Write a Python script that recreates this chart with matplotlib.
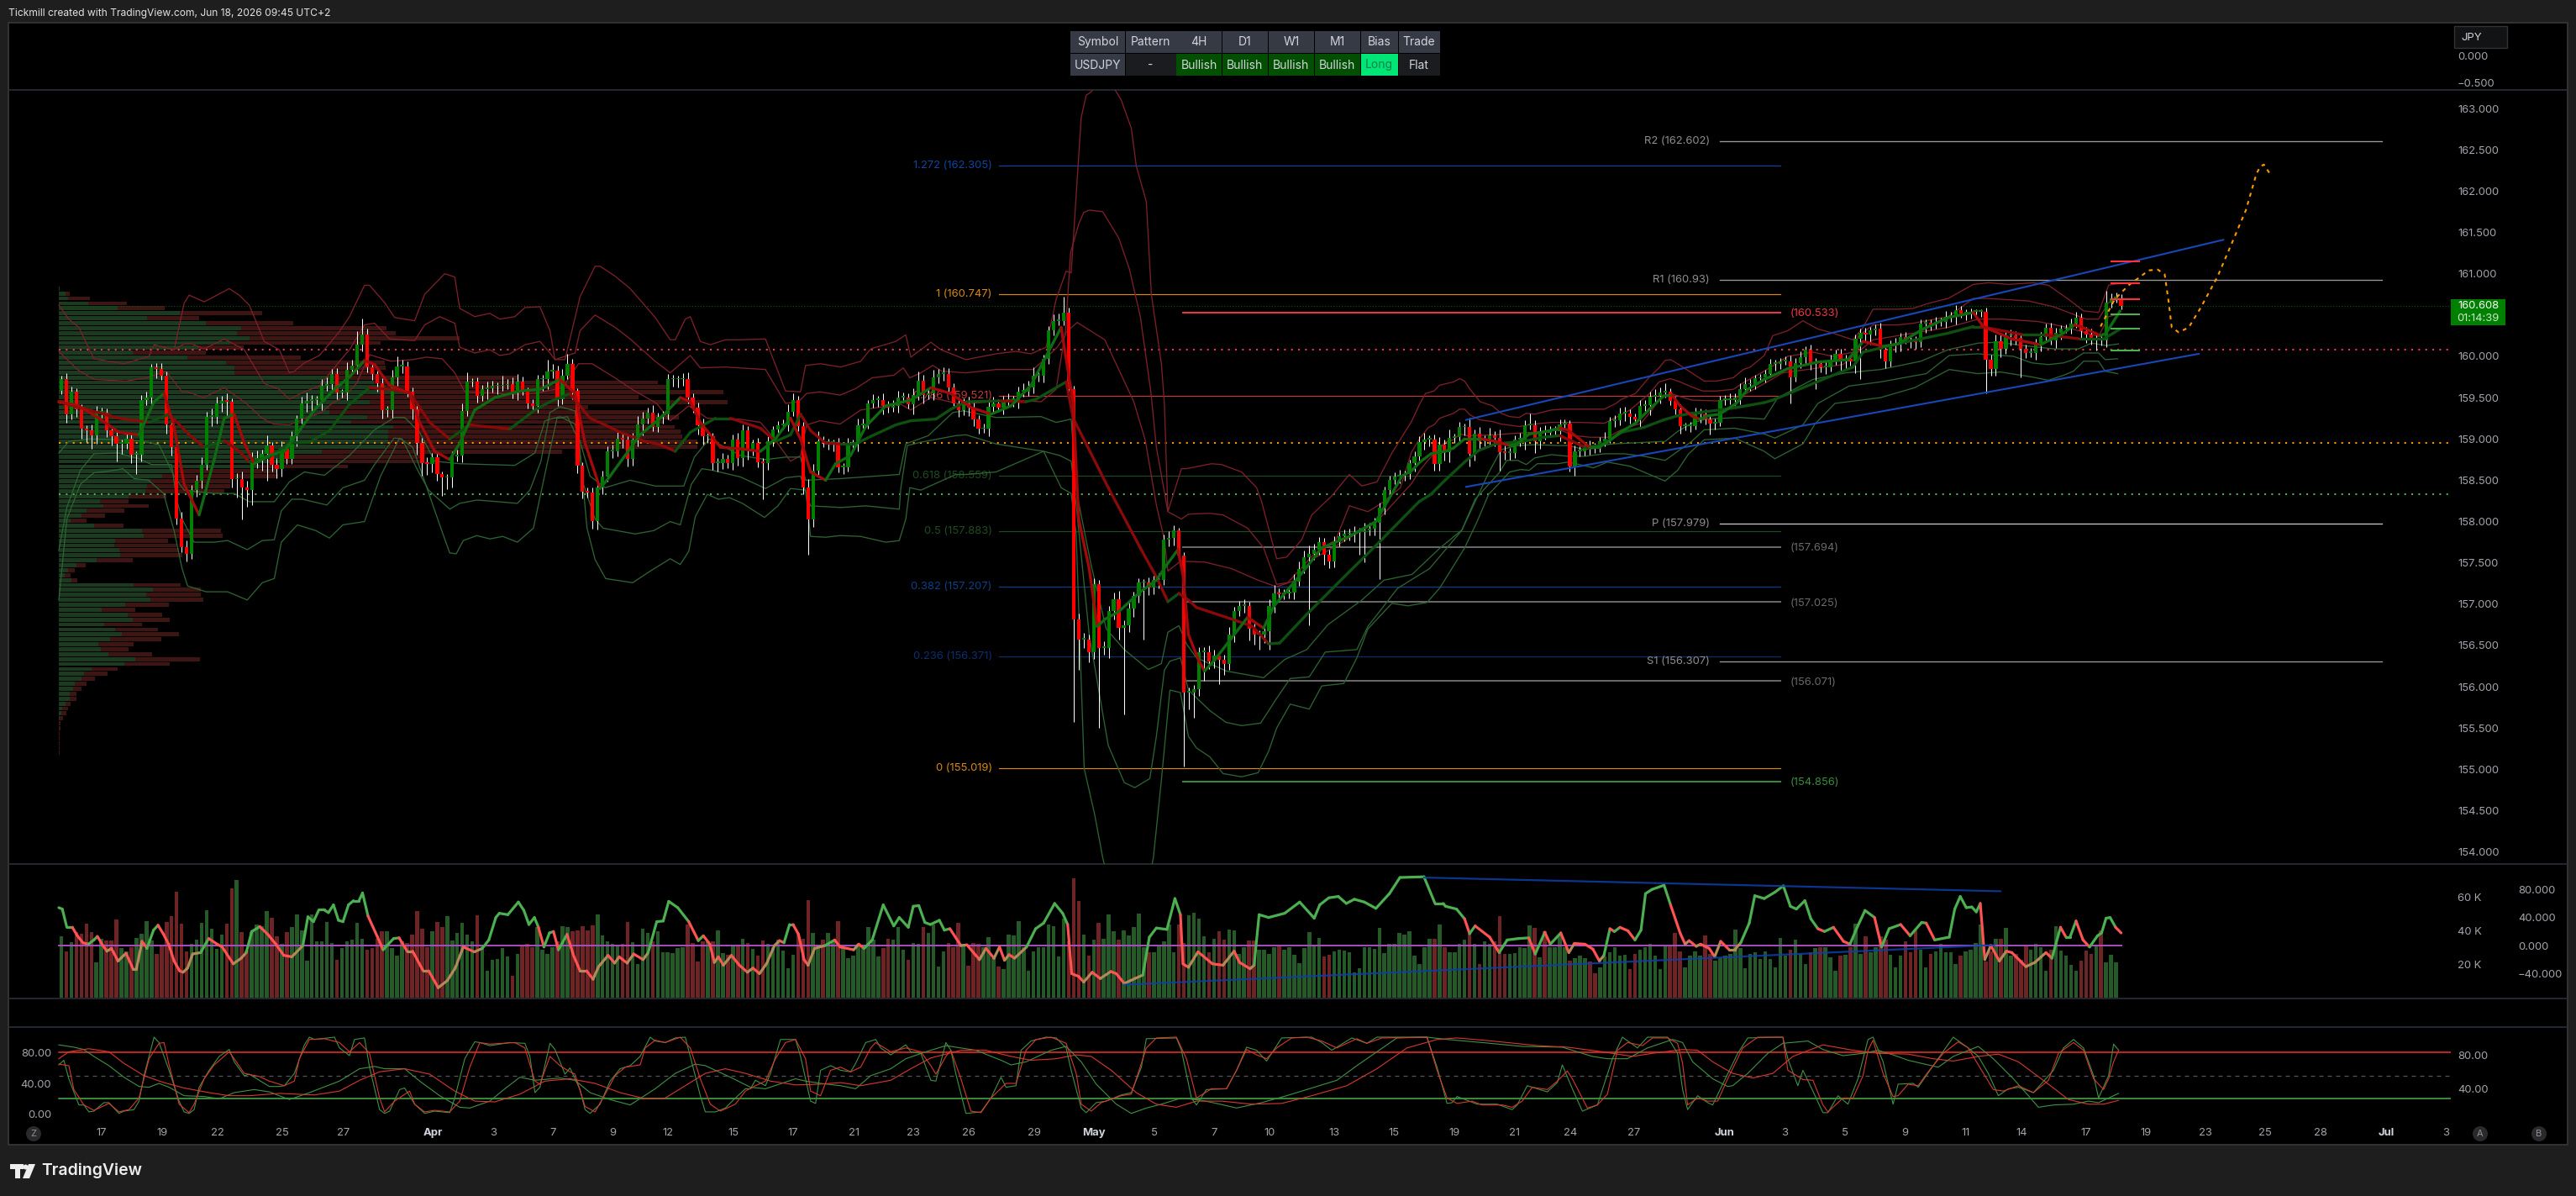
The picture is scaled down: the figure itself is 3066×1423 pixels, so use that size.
import numpy as np
import matplotlib
matplotlib.use("Agg")
import matplotlib.pyplot as plt
from matplotlib.collections import LineCollection
from matplotlib.patches import Rectangle, Circle, Polygon

plt.rcParams['font.family'] = ['Inter', 'DejaVu Sans']

W, H = 3066, 1423

# ---- USDJPY 4H closes ----
closes = [
159.72,159.30,159.57,159.36,159.12,159.10,159.04,159.32,159.32,159.10,
159.03,158.94,158.94,159.00,158.81,158.81,159.47,159.50,159.87,159.85,
159.77,159.18,158.90,158.04,157.69,157.61,158.38,158.49,158.69,159.27,
159.27,159.43,159.46,159.45,158.51,158.51,158.41,158.38,158.75,158.76,
158.82,158.92,158.69,158.64,158.88,158.76,159.03,159.25,159.43,159.46,
159.47,159.47,159.64,159.66,159.79,159.56,159.56,159.84,159.89,160.14,
160.26,159.87,159.79,159.67,159.35,159.35,159.74,159.88,159.88,159.57,
159.36,158.95,158.71,158.70,158.78,158.57,158.53,158.53,158.79,158.80,
159.34,159.69,159.69,159.52,159.60,159.61,159.64,159.64,159.65,159.66,
159.57,159.69,159.58,159.43,159.40,159.72,159.72,159.82,159.83,159.48,
159.77,159.91,159.58,158.68,158.36,158.35,158.01,158.41,158.54,158.85,
158.85,159.00,158.99,158.76,158.99,159.18,159.25,159.32,159.14,159.27,
159.30,159.72,159.72,159.72,159.72,159.50,159.38,159.17,159.03,159.03,
158.71,158.71,158.76,158.71,158.99,158.77,159.10,158.87,158.95,158.72,
158.71,158.97,159.11,159.17,159.17,159.33,159.47,159.15,158.41,158.03,
158.62,158.97,158.95,158.95,158.95,158.66,158.66,158.94,158.94,159.17,
159.19,159.43,159.47,159.47,159.40,159.38,159.40,159.50,159.50,159.42,
159.53,159.70,159.53,159.55,159.74,159.79,159.79,159.62,159.43,159.35,
159.43,159.38,159.24,159.12,159.12,159.39,159.43,159.38,159.46,159.47,
159.47,159.57,159.57,159.62,159.77,159.77,159.97,160.31,160.43,160.43,
160.53,159.60,156.82,156.57,156.57,156.42,157.24,156.47,156.47,156.92,
157.06,156.71,156.74,156.95,157.10,157.26,157.26,157.20,157.29,157.29,
157.78,157.80,157.89,157.59,155.93,155.93,155.97,156.42,156.42,156.31,
156.38,156.33,156.28,156.63,156.92,156.98,156.98,156.70,156.63,156.63,
156.67,156.98,157.13,157.12,157.13,157.14,157.27,157.43,157.57,157.61,
157.66,157.75,157.60,157.52,157.75,157.82,157.85,157.85,157.86,157.87,
157.89,157.91,157.99,158.17,158.38,158.50,158.54,158.56,158.57,158.71,
158.79,158.96,158.99,158.99,158.70,158.93,158.84,159.01,159.02,159.14,
159.14,158.82,159.06,158.97,159.00,159.04,159.01,158.84,158.83,158.83,
158.99,158.99,159.17,159.17,158.97,159.09,159.07,159.09,159.09,159.18,
159.19,158.67,158.85,158.85,158.90,158.89,158.88,158.97,159.00,159.22,
159.23,159.31,159.31,159.27,159.24,159.40,159.41,159.51,159.52,159.56,
159.57,159.46,159.36,159.16,159.16,159.16,159.30,159.30,159.24,159.19,
159.20,159.47,159.47,159.47,159.50,159.60,159.66,159.66,159.73,159.74,
159.79,159.91,159.91,159.94,159.94,159.74,159.92,159.99,160.08,159.91,
159.91,159.87,159.87,159.96,160.03,159.94,159.97,159.94,160.21,160.28,
160.26,160.31,160.33,160.08,159.94,160.14,160.16,160.23,160.20,160.18,
160.17,160.40,160.40,160.39,160.42,160.42,160.48,160.49,160.56,160.52,
160.52,160.54,160.54,160.54,159.96,159.85,160.18,160.09,160.25,160.25,
160.22,160.09,160.04,160.04,160.16,160.23,160.35,160.19,160.28,160.33,
160.33,160.40,160.47,160.30,160.26,160.19,160.20,160.19,160.65,160.70,
160.70,160.608]
first_open = 159.58

# Wick sizes above and below each body, in hundredths of a yen
upper_wick = [
5,8,6,4,6,5,8,8,6,5, 4,6,5,8,6,4,6,7,4,5, 7,5,6,5,8,8,6,7,9,6, 10,8,6,9,4,8,10,8,9,10,
5,12,4,8,9,6,6,4,8,10, 6,5,8,8,6,7,4,9,7,16, 20,8,5,4,6,5,10,12,8,6, 5,8,6,7,5,6,4,5,6,7,
9,12,4,6,5,8,6,4,12,6, 8,10,7,4,5,6,6,14,8,6, 8,12,6,3,4,5,6,8,8,6, 8,10,6,5,8,10,8,6,9,5,
4,7,6,5,8,9,5,6,8,5, 4,6,7,5,6,8,8,5,4,6, 5,6,4,5,7,9,8,5,6,10, 8,12,6,5,4,6,5,7,5,8,
6,4,7,5,8,6,7,8,6,5, 8,12,8,6,10,6,8,7,5,4, 6,8,6,5,7,6,8,5,6,8, 5,6,10,8,10,6,5,6,8,9,
19,6,4,7,8,6,7,5,8,6, 8,10,6,8,5,5,4,6,5,8, 6,8,6,3,4,6,5,6,6,8, 7,5,6,9,5,6,8,5,6,5,
4,8,10,6,5,6,9,9,8,10, 7,6,5,6,7,5,5,6,8,5, 9,8,6,6,4,5,6,7,5,4, 6,7,8,5,6,9,6,10,4,7,
5,12,5,8,4,9,5,10,8,6, 5,8,6,14,6,5,8,6,6,6, 5,4,7,6,5,8,6,5,8,5, 6,7,8,5,4,7,6,6,8,6,
10,4,5,6,4,5,8,7,6,6, 5,5,6,8,5,7,8,6,5,5, 5,6,5,4,6,7,6,7,4,6, 7,4,8,6,5,6,5,4,5,6,
7,5,6,8,4,5,6,5,6,5, 6,5,5,5,6,5,7,5,6,5, 5,4,3,3,5,6,8,10,6,7, 5,4,5,6,5,6,5,6,7,5,
6,6,7,5,6,8,5,5,14,6, 7,5]
lower_wick = [
4,10,6,9,12,14,16,10,6,8, 11,21,12,6,10,24,8,6,10,12, 6,12,10,8,6,9,6,8,9,6, 12,8,10,18,10,22,38,20,18,10,
14,33,8,12,10,6,6,12,6,10, 14,10,12,6,8,8,6,9,5,10, 8,6,8,10,10,8,9,10,8,6, 12,14,16,14,10,8,22,14,12,6,
8,6,6,8,6,12,5,10,6,5, 8,10,5,6,6,8,14,12,9,8, 6,5,10,9,8,6,10,11,8,6, 8,6,10,9,8,8,14,6,5,6,
8,6,9,10,8,7,6,12,10,8, 8,10,7,6,8,9,10,12,7,6, 44,8,6,5,6,8,5,6,8,43, 10,6,5,8,10,6,8,5,6,9,
6,7,5,8,10,6,5,8,6,5, 12,6,10,5,8,7,9,6,5,8, 6,10,8,6,5,9,6,5,8,7, 8,10,6,5,7,8,9,6,6,5,
5,8,125,37,10,12,8,97,8,12, 10,14,104,8,10,8,69,9,8,10, 6,8,9,6,89,20,31,8,35,9, 8,30,14,8,9,6,8,14,12,18,
10,22,8,9,6,6,8,5,6,83, 7,6,12,8,7,5,6,8,10,26, 36,6,8,69,8,6,5,8,7,6, 10,6,9,8,8,8,10,12,6,8,
10,15,8,10,6,8,10,22,8,8, 6,8,12,6,14,9,8,5,6,12, 5,6,12,6,5,8,5,4,6,5, 8,6,9,8,5,10,6,12,6,9,
6,5,6,10,6,8,5,10,6,14, 8,5,6,5,7,8,4,8,6,5, 6,5,8,6,4,31,5,6,8,7, 31,6,8,5,6,12,9,5,14,49,
8,12,6,10,8,6,9,10,5,8, 8,6,12,8,6,5,7,6,10,5, 8,6,5,6,41,8,8,10,6,12, 8,35,6,5,8,10,6,5,9,8,
5,6,5,8,10,5,12,6,8,6, 5,4]

# Volume per bar, thousands
volume_k = [
36.5,27.7,33,39,38,44,39,21,35,34, 34,46.5,29.7,27.7,29.8,35.5,38,45.5,33.8,26,
30.5,44.8,48.5,63,44,27.7,31.8,34.7,44.3,52, 41,29,37.7,44,65,69.8,39,28,39,43.5,
42.7,51.5,47.7,36.5,31.8,39,42,49.7,40,21.8, 49.3,33.5,33.5,45,32.7,22.7,29.3,33.5,34.3,44.3,
35,28.5,29.3,35,39.3,39.3,29.3,25,33.5,32.7, 37.7,51.5,41,30,39.3,44.8,41.8,48.5,34,38.5,
44.3,37.3,33.5,49,31,16,22.7,23.2,29.7,24.3, 13.2,26,30.5,31.8,30.2,41.8,28.5,26,30.2,33.5,
42.7,42.2,39.3,40.2,42.7,40.2,43.2,49.3,36.8,33.5, 31.8,31.5,31.8,44.8,33,20.2,41,38.5,33.5,39.3,
26.8,27.2,26.3,29.3,30.2,43.5,32.7,21.5,33.5,33.5, 33.5,39.8,26.5,25.7,31.5,31.5,34.8,32.7,29,25.2,
34,31.8,30.2,34.3,28.2,17.3,25.7,38.5,35,58, 38.5,30.2,34.3,38.5,33.5,45.5,
29.3,23.5,24.8,31.8,29.3,41.8,34.3,24.3,29.3,
35,34.3,41.8,28.5,22.7,32.7,31.8,41.8,38.5,43.5, 18.5,27.7,32.7,30.2,44.3,31.8,18.8,32.7,31.8,30.2,
36,23.5,18.5,16.8,37.7,36.8,45.5,30.2,16,27.7, 30.2,30.2,43.5,42.7,24.3,46.8,33.5,71,57.7,37.7,
25.2,34.3,44.3,35,49.3,39.3,34.3,39.8,37.2,41.8, 49.8,30.2,27.2,27.2,31,33.5,43.5,27.2,43.5,32.7,
48.8,50.5,46.8,36.5,26.8,34.8,39.3,34.3,40.5,39.8, 26,30.2,33.8,33.8,28.5,28.5,26,30.2,30.5,28.5,
30.2,25.5,20.5,29.3,38.8,31.5,35.5,24.3,25.5,27.7, 28.5,28,26.8,15.2,17.7,29.8,30.2,28.8,41.3,26.5,
31.8,31.8,38.5,37.7,39.3,25.2,20.2,30.2,34.8,35.2, 43.5,30.2,26.8,26.8,31.8,34.3,38.2,31.8,20.2,33.5,
31.8,33.5,48.5,26,26,26.5,30.2,29.3,43,41.5, 23.8,39.3,30.2,30.2,37.2,30.2,21.8,23.5,25.2,23.5,
21.5,14.3,18.2,24.3,26.8,30.2,24.8,25.5,16.8,26, 28.5,29.8,32.2,25.2,16.8,31,30.5,38.5,
27.7,18.2,25.2,27.7,25.2,36.8,26,
22.2,23.5,25.2,26,40.5,29.3,17.7,26,27.2,23.2, 27.7,23.2,18.2,35.5,25.2,28.5,34.3,26,19.8,26.8,
29.3,29.8,29.8,23.8,16,25.2,25.5,30.2,43.8,26, 36.5,26.8,30.2,36.5,34.3,25.5,18.2,25.2,33.5,26.8,
40.2,28.5,18.2,26,27.7,32.2,26.8,26.8,20.2,24.8, 27.7,28.5,32.7,43.5,21.5,27.7,34.8,35.2,41.5,25.2,
26,22.7,30.5,28.5,31.8,29.8,16,28.5,42.7,28.2, 25.2,19.3,16,22.2,28.2,26,31.5,40.2,21,25.5,21]

# Volume-by-price rows, top to bottom: buy side and sell side
profile_buy = [
.2,1.3,1.9,5.9,11.8,24.1,17.6,29.4,36.4,35.5,38,34.2,27.8,14.7,25.7,33.4,35,35,54,62.8,65.2,69.5,60.1,62,
54,54,61.5,58.3,66.8,65.8,65.8,65.8,65.2,52.4,47.1,44.9,40.1,22.5,20.6,18.2,17.6,17.3,13.9,8.2,8.9,5.6,4.5,2.4,7.1,
16.6,16.9,11.2,11,12,12.3,7.5,3.5,1.8,1.1,2.5,15,18.7,17.4,18.2,13.3,8.6,13.7,14.7,9.1,11.2,12.6,10.2,7.9,8.3,9.9,15.2,13,
6.6,5.1,4.5,3.2,2.9,2.1,2.1,1.3,.7,.5,.2,0,0,0,0,0,0,0]
profile_sell = [
0,.9,4.3,7.7,9.3,16.4,10.4,17.3,28.9,31.7,41.9,30,9.1,14.7,22.5,31.6,30.2,28,37.6,56.8,56.1,63.1,55.6,71.5,
51.6,63.6,62.2,62.2,56,58.3,58.6,61.6,62.2,48.1,25,27.8,17.6,20.9,23.2,16,16.6,15.8,7.5,5.7,9,7.5,4.7,3.2,5.8,
15.7,15.8,10.6,12.5,12,12.3,7.3,1.8,1.4,1.3,1.2,9.3,9.7,10.9,10.7,8.6,6.6,7,7.4,7.5,8.6,11.3,10.3,7,5.6,8.7,12.9,9.1,
5.2,4.6,2.7,2.4,1.6,1.5,1.5,1.1,1.1,1,.6,.4,.3,.1,.1,.1,.1,.1]

# Envelope bands around price: (bar, price)
band_r3 = [(0,160.62),(2,160.45),(4,160.35),(7,159.97),(13,159.91),(18,160.0),(19,160.14),(23,160.08),(25,160.64),(26,160.74),(29,160.66),(30,160.69),(34,160.82),(36,160.74),(38,160.62),(41,160.18),(44,160.08),(46,159.80),(47,159.82),(49,159.92),(52,160.01),(56,160.30),(58,160.48),(61,160.86),(62,160.86),(65,160.65),(67,160.47),(71,160.43),(73,160.75),(77,161.0),(79,160.96),(80,160.58),(83,160.48),(86,160.52),(88,160.45),(91,160.48),(93,160.59),(96,160.6),(98,160.31),(99,159.96),(101,159.96),(104,160.72),(107,161.09),(108,161.09),(111,160.97),(114,160.82),(119,160.47),(122,160.2),(123,160.2),(125,160.45),(126,160.48),(128,160.18),(130,160.14),(133,160.2),(136,160.2),(141,160.21),(145,159.58),(148,159.57),(149,159.89),(152,159.91),(156,159.87),(160,159.94),(162,160.09),(167,160.18),(169,160.26),(170,159.99),(172,160.08),(174,160.17),(176,160.08),(181,159.96),(187,160.03),(191,160.06),(194,160.03),(197,160.11),(199,160.69),(201,161.03),(202,161.01),(204,162.89),(205,163.16),(206,163.2),(207,163.3),(210,163.3),(212,163.1),(214,162.76),(215,162.3),(217,161.87),(218,160.75),(220,159.91),(220.6,159.43),(221.3,158.12),(224,158.64),(225,158.64),(230,158.7),(232,158.69),(236,158.6),(239,158.41),(240,158.24),(243,157.55),(245,157.57),(248,157.78),(250,158.08),(254,158.31),(257.5,158.57),(260,158.43),(263,158.48),(266,158.83),(269.9,159.21),(271.6,159.43),(272.7,159.55),(274.4,159.58),(275.5,159.65),(278.3,159.69),(279.5,159.73),(280.5,159.7),(281.6,159.6),(283.6,159.45),(286.1,159.4),(287.8,159.31),(289.5,159.27),(291.4,159.26),(292.8,159.31),(294.5,159.3),(297.8,159.35),(300.3,159.36),(303.4,159.36),(308.4,159.36),(310.7,159.43),(311.8,159.48),(314.6,159.55),(317.4,159.75),(319.3,159.86),(320.5,159.95),(321.6,159.96),(323,159.91),(325.8,159.8),(328.3,159.7),(330.8,159.7),(334.1,159.74),(336.1,159.84),(337.5,159.87),(340.3,160.01),(342,160.25),(345,160.31),(348,160.43),(351,160.33),(354,160.28),(358,160.2),(360,160.35),(362,160.57),(367,160.57),(370,160.58),(373,160.64),(377,160.7),(382,160.87),(385,160.89),(389,160.87),(394,160.89),(397,160.86),(401,160.69),(404,160.55),(407,160.53),(409,160.86),(411,160.88)]
band_r2 = [(23,160.08),(25,160.15),(26.5,160.15),(29,160.09),(33,160.21),(37,160.08),(41,159.67),(44,159.6),(46,159.48),(49,159.57),(52,159.64),(56,159.94),(58,160.08),(61,160.38),(63,160.4),(66,160.21),(71,160.19),(73,160.38),(76,160.48),(79,160.4),(80,160.11),(83,160.04),(86,160.08),(88,160.01),(90,160.03),(93,160.14),(96,160.18),(98,160.04),(99,159.96),(103,160.04),(104,160.31),(107,160.5),(111,160.35),(114,160.21),(119,159.94),(122,159.8),(126,160.01),(128,159.86),(133,159.87),(141,159.84),(145,159.43),(147.6,159.45),(149.2,159.55),(151.9,159.57),(155.9,159.53),(159,159.61),(162.3,159.74),(166.6,159.77),(168.5,159.86),(169.8,159.74),(172,159.80),(174.4,159.89),(176.2,159.82),(181,159.8),(187,159.84),(194.4,159.84),(196.3,159.94),(199.2,160.11),(200.8,160.25),(201.9,161.26),(203.5,161.6),(204.5,161.74),(205.6,161.77),(208.3,161.75),(211.5,161.43),(213.6,161.06),(215.8,160.48),(217.9,159.57),(219,158.9),(221.3,158.12),(224,158.03),(225.4,158.09),(229.7,158.1),(232.3,158.08),(237.2,157.92),(240.4,157.68),(243,157.24),(245.2,157.26),(247.8,157.43),(250.5,157.61),(254.8,157.78),(257.5,158.19),(261.2,158.12),(263.9,158.22),(267.7,158.41),(269.9,158.84),(271.6,159.01),(273.3,159.14),(274.4,159.17),(275.5,159.25),(278.3,159.31),(279.5,159.36),(280.5,159.36),(281.6,159.29),(283.6,159.23),(286.1,159.21),(287.8,159.18),(291.4,159.15),(294.5,159.18),(297.8,159.2),(303.4,159.2),(308.4,159.19),(310.7,159.26),(313.5,159.35),(317.4,159.55),(319.3,159.69),(321.6,159.73),(323.5,159.69),(325.8,159.63),(328,159.58),(330.8,159.58),(334.1,159.6),(336.4,159.69),(340.3,159.82),(345,160.0),(350,160.05),(354,160.0),(358,160.05),(359,160.24),(362,160.38),(367,160.38),(370,160.4),(377,160.48),(382,160.7),(385,160.7),(393,160.67),(398,160.6),(404.5,160.45),(407,160.45),(409,160.65),(411,160.69)]
band_r1 = [(0,160.06),(3.7,159.84),(7,159.72),(13.4,159.7),(17.6,159.74),(21.4,159.82),(24.6,159.57),(25.7,159.57),(28.9,159.5),(33,159.62),(37.4,159.43),(40.6,159.25),(42.8,159.18),(46,159.17),(49.2,159.25),(52.4,159.32),(54.5,159.43),(56.7,159.5),(59.4,159.67),(62,160.02),(66.3,159.94),(70.6,159.96),(73.3,159.99),(76.5,159.97),(79,159.8),(81,159.57),(91,159.54),(95,159.55),(100.5,159.62),(103.7,159.91),(106.4,159.91),(110.7,159.75),(114.4,159.6),(119.3,159.43),(122,159.22),(125.7,159.4),(129.4,159.25),(135.8,159.24),(140,159.2),(142.8,159.0),(146,158.73),(148,158.8),(149.2,159.17),(151.9,159.22),(155.9,159.18),(160,159.35),(168,159.42),(170,159.35),(174,159.5),(180,159.42),(190,159.47),(196,159.45),(199,159.6),(200.8,160.28),(203.2,160.41),(208.7,160.2),(211.5,159.84),(214.5,159.45),(216.8,158.98),(219,158.2),(220.6,157.78),(221.3,157.4),(223.8,157.52),(228.6,157.51),(234,157.43),(239.3,157.29),(243,157.21),(246.8,157.29),(250,157.54),(253,157.64),(262.8,157.99),(266,158.2),(269.9,158.46),(271.6,158.62),(273.3,158.75),(274.6,158.83),(276.6,158.96),(278.3,158.99),(279.5,159.06),(281,159.04),(283.3,159.04),(286,159.05),(293.9,159.08),(299.5,159.11),(302.3,159.04),(305.6,159.02),(309,159.02),(311.8,159.11),(315.7,159.19),(318,159.36),(319.6,159.5),(321.6,159.55),(325.8,159.47),(330.8,159.46),(334.1,159.48),(336.4,159.54),(340.3,159.67),(344,159.8),(350,159.85),(356,159.9),(359,160.05),(362,160.2),(370,160.28),(377,160.35),(383,160.45),(388,160.45),(395,160.42),(400,160.36),(403,160.31),(407,160.24),(409,160.48),(411,160.51)]
band_g1 = [(0,158.83),(2,158.97),(6,159.0),(13,158.99),(17,158.97),(20,158.93),(23,158.55),(25,158.38),(31,158.34),(35,158.34),(38,158.24),(43,158.24),(46,158.48),(49,158.6),(53,158.56),(58,158.8),(63,159.11),(67,159.26),(69,159.26),(72,159.08),(75,158.73),(80,158.7),(91,158.68),(95,158.83),(97,159.22),(100,159.27),(103,159.18),(106,158.55),(109,158.41),(114,158.5),(119,158.43),(124.7,158.43),(126.8,158.78),(129.8,159.0),(136,158.8),(141,158.75),(145,158.78),(148,158.78),(149,158.5),(156,158.52),(167.7,158.57),(169,158.94),(173.5,159.04),(178.4,159.32),(180.5,159.34),(187,159.26),(196,159.27),(199,159.2),(202,159.24),(203,158.38),(206,157.47),(209,156.7),(212.6,156.45),(217.4,156.21),(220,156.28),(221.3,156.66),(223.5,156.74),(225,156.52),(227,156.35),(233,156.19),(240.4,156.11),(244.6,156.33),(249,156.45),(253.2,156.75),(260,157.05),(264.4,157.29),(270,157.36),(275.6,157.68),(280,157.9),(282.6,158.24),(285.3,158.59),(287.8,158.87),(291,158.92),(294.5,158.93),(299,158.92),(301.2,158.92),(304.5,158.87),(307.9,158.92),(310,158.94),(320.5,158.97),(323,159.09),(325.8,159.19),(328.6,159.24),(335.3,159.26),(340.3,159.24),(343,159.5),(347.5,159.64),(350,159.72),(356.6,159.8),(363.5,159.84),(371.5,159.94),(377,160.08),(383,160.16),(387,160.17),(392,160.13),(398,160.09),(403,160.09),(405.6,160.16),(408.5,160.13),(411,160.15)]
band_g2 = [(0,157.65),(1.6,158.17),(4.3,158.62),(7,158.82),(11.8,158.83),(16,158.76),(18.5,158.69),(22.5,158.69),(23.5,158.27),(24.6,158.03),(27,157.75),(31,157.75),(33.7,157.77),(37.6,157.66),(40.6,157.77),(43,157.78),(44.4,158.13),(46.5,158.27),(48.6,158.27),(53.5,158.2),(56.7,158.41),(61,158.5),(63,158.69),(66.9,159.01),(68.5,159.0),(71.7,158.61),(73.8,158.38),(78,158.15),(80,158.22),(83.4,158.26),(87.7,158.24),(91.5,158.22),(94,158.38),(96.2,158.73),(98,159.32),(100,159.39),(103,159.34),(104.7,158.45),(107,158.03),(108.6,157.92),(115,157.85),(118.7,157.89),(122,158.0),(124,157.96),(126.2,158.45),(128.3,158.64),(130.4,158.62),(136,158.54),(141,158.4),(145,158.53),(148,158.55),(150,158.19),(156,158.17),(161,158.19),(167.7,158.15),(168,158.4),(169.3,158.92),(172,158.96),(179,159.04),(181,159.05),(187,158.94),(196.5,158.85),(199.7,158.8),(202,158.73),(203,158.2),(205.6,156.63),(209.4,155.29),(212.6,154.84),(214.7,154.78),(217.7,154.89),(219,155.4),(220.6,156.2),(221.7,156.31),(223.8,156.35),(225.4,155.96),(229.7,155.71),(232.9,155.57),(236,155.53),(239.8,155.56),(243,155.86),(245.7,156.1),(249.5,156.12),(252.7,156.42),(259,156.45),(261.2,156.73),(267.1,157.19),(270.8,157.33),(273.5,157.43),(279.9,157.89),(282.6,158.27),(287.4,158.59),(288.9,158.74),(291.1,158.74),(292.8,158.69),(294.5,158.77),(297.8,158.81),(301.2,158.79),(304.5,158.79),(308.4,158.82),(312.4,158.82),(316.3,158.79),(320.5,158.74),(323.5,158.87),(325.8,158.97),(328.3,159.11),(334.4,159.13),(340.3,159.06),(342.4,159.01),(348,159.17),(351,159.43),(357.2,159.64),(363.5,159.69),(372.6,159.79),(377.2,160.01),(382.9,160.03),(390,160.0),(393.7,159.92),(397,159.9),(400,159.92),(402,159.96),(404,160.04),(407,160.04),(408.3,159.96),(410.8,159.97)]
band_g3 = [(0,157.05),(1.6,158.03),(4.3,158.45),(7,158.59),(10,158.61),(12.8,158.64),(15,158.52),(17.9,158.5),(20.9,158.34),(23,157.89),(24.6,157.43),(25.7,157.22),(29.4,157.15),(33.7,157.15),(37.6,157.05),(40.6,157.26),(43,157.31),(44.4,157.75),(47.6,157.96),(51.3,157.89),(54,157.8),(56.7,157.96),(61,158.0),(64.2,158.55),(68,159.01),(70.6,158.9),(72.8,158.52),(76,157.96),(78,157.62),(79.3,157.61),(80.7,157.77),(83.4,157.83),(86,157.79),(88.6,157.82),(91.5,157.75),(94.7,157.92),(96.8,158.52),(99.4,159.25),(101.5,159.27),(103.8,158.97),(105.4,157.92),(107,157.54),(109.1,157.31),(114.5,157.26),(118,157.4),(122,157.55),(124,157.48),(125.7,157.64),(127,158.06),(129.4,158.33),(131.6,158.27),(133.8,158.29),(136.4,158.22),(140.8,158.05),(143.5,158.19),(146,158.4),(149,158.38),(150,157.82),(153,157.81),(155.9,157.83),(160,157.82),(165,157.75),(167.7,157.77),(169,158.03),(169.8,158.41),(172,158.38),(179,158.57),(181,158.57),(187,158.6),(196.5,158.85),(200,158.41),(202,158.34),(203,157.85),(204.6,155.01),(206.7,154.45),(208.3,153.93),(210.4,153.4),(215,152.9),(218.4,153.93),(220,154.87),(221.7,155.96),(223.8,155.93),(225.4,155.4),(227,155.26),(229.7,155.15),(232.3,154.95),(236,154.91),(239.3,154.96),(241.4,155.22),(243,155.5),(245.7,155.79),(249.5,155.73),(252,156.01),(256.4,156.04),(259,156.35),(261.2,156.7),(266,157.01),(269.2,156.98),(273,157.02),(275.6,157.2),(280.5,157.68),(283,158.0),(285.3,158.33),(287.2,158.45),(289.5,158.6),(291.7,158.63),(293.4,158.62),(295,158.70),(299,158.70),(301.2,158.72),(303.4,158.69),(306.2,158.65),(309,158.72),(313.5,158.67),(317.4,158.57),(320.5,158.49),(323,158.62),(325.2,158.82),(328.3,158.99),(334.4,159.01),(337,158.94),(340.3,158.85),(342.4,158.76),(348,158.94),(350.4,159.18),(354.4,159.43),(363.5,159.5),(370.3,159.62),(377.2,159.84),(382.9,159.79),(387.4,159.81),(393.7,159.75),(397,159.71),(400,159.77),(402,159.82),(404,159.94),(407,159.94),(408.3,159.82),(410.8,159.79)]

# Fast and slow moving averages: (bar, price)
ma_fast = [(0,159.45),(4,159.4),(8,159.25),(12,159.08),(16,159.05),(19,159.45),(21,159.55),(23,159.15),(25,158.45),(28,158.08),(31,158.75),(33,159.25),(35,159.3),(37,158.95),(39,158.7),(42,158.8),(45,158.85),(48,159.1),(51,159.35),(55,159.6),(58,159.75),(61,159.95),(63,159.9),(66,159.65),(70,159.55),(72,159.2),(75,158.85),(78,158.75),(80,158.95),(83,159.35),(87,159.5),(92,159.58),(96,159.6),(100,159.72),(103,159.55),(105,158.95),(108,158.4),(110,158.55),(113,158.8),(116,159.05),(120,159.25),(124,159.5),(126,159.45),(128,159.2),(132,158.9),(136,158.88),(140,158.85),(143,159.0),(146,159.25),(148,159.0),(150,158.6),(153,158.5),(155,158.7),(158,158.8),(161,159.15),(165,159.4),(170,159.47),(174,159.62),(178,159.55),(182,159.38),(186,159.3),(190,159.4),(194,159.65),(197,160.0),(200,160.35),(202.4,159.43),(203.5,158.03),(205.6,157.43),(207.2,156.73),(208.8,156.82),(211.5,156.91),(215.8,157.15),(219,157.29),(221,157.47),(223.3,157.66),(224.3,157.36),(225.4,156.63),(227.5,156.31),(228.6,156.19),(230.7,156.33),(234,156.59),(237.2,156.84),(240.4,156.71),(242.5,156.98),(247.8,157.36),(252,157.68),(257.5,157.82),(262.8,158.0),(268,158.55),(270,158.62),(271.6,158.72),(273.8,158.82),(276.6,158.85),(278.3,158.89),(280.5,159.0),(284,159.0),(286.7,158.97),(289.5,158.92),(291,158.94),(293.4,159.06),(296,159.08),(299.5,159.13),(301,159.11),(303.4,159.0),(305.6,158.89),(307.3,158.9),(309,158.96),(311.8,159.09),(314.6,159.19),(317.4,159.36),(320.2,159.52),(321.9,159.53),(323.5,159.4),(325.8,159.28),(327.4,159.24),(329.1,159.28),(331.4,159.3),(334.7,159.43),(337,159.6),(340.3,159.72),(345,159.85),(351,159.93),(357,159.96),(360,160.18),(364,160.12),(367,160.15),(372,160.33),(377,160.47),(382,160.53),(384,160.36),(389.7,160.21),(393,160.17),(395.4,160.14),(400,160.28),(402.2,160.38),(403.4,160.36),(407.4,160.25),(408.5,160.28),(411.3,160.55)]
ma_slow = [(0,159.45),(6,159.35),(12,159.25),(18,159.2),(22,159.3),(26,159.05),(29,158.9),(33,158.98),(36,158.85),(38,158.72),(42,158.78),(46,158.95),(50,158.96),(54,159.1),(58,159.42),(62,159.62),(66,159.6),(70,159.56),(74,159.2),(78,159.0),(82,159.17),(90,159.12),(95,159.35),(98,159.45),(102,159.55),(106,159.25),(109,159.17),(112,159.08),(117,158.97),(120,158.93),(123,158.85),(126,159.08),(131,159.25),(134,159.25),(140,159.13),(143,158.97),(146,159.05),(148,159.3),(150,159.1),(153,158.95),(156,158.94),(159,158.94),(162,159.03),(167,159.17),(170,159.22),(175,159.24),(178,159.36),(181,159.45),(188,159.46),(193,159.45),(195,159.48),(201,159.69),(202.4,159.25),(209.4,158.41),(215.8,157.68),(219,157.33),(221.3,157.03),(223.5,157.13),(225.4,157.05),(227,156.96),(234,156.82),(238.2,156.73),(241.4,156.52),(243.6,156.53),(248.9,156.87),(255.3,157.26),(262.8,157.71),(271.4,158.24),(273.8,158.33),(276.6,158.5),(280.5,158.72),(283.3,158.86),(286.7,158.94),(292.2,158.97),(296.2,159.02),(299.5,159.04),(304.5,158.9),(307.3,158.92),(309,158.97),(311.8,159.08),(316.3,159.14),(320.2,159.23),(323,159.28),(325.8,159.31),(331.4,159.35),(334.7,159.38),(340.3,159.44),(342,159.47),(358,159.87),(360,160.05),(369,160.18),(377,160.28),(382,160.36),(383.5,160.36),(392,160.26),(396.5,160.26),(403.4,160.21),(408,160.21),(411.3,160.33)]

# Oscillator overlaid on volume: (bar, value)
osc = [(0,54),(.7,52),(1.6,26),(2.7,26),(3.7,14),(4.8,4),(5.9,2),(7,8),(7.7,13),(8.8,0),(9.6,-8),(10.5,-4),(11.8,-22),(13.4,-11),(14.8,-33),(15.5,-33),(16.6,6),(17.6,-4),(18.9,22),(19.8,29),(20.9,16),(21.9,2),(23,-22),(24.1,-36),(24.8,-38),(25.7,-32),(26.7,-12),(28.3,-10),(29.9,10),(31.6,2),(32.6,-2),(34.8,-26),(36.4,-18),(37.4,-10),(38.5,20),(40.1,27),(41.7,16),(43.3,2),(44.9,-14),(46.5,-16),(48.7,0),(49.7,41),(50.8,34),(51.9,51),(52.9,51),(53.8,47),(54.8,58),(55.8,36),(56.7,34),(57.8,58),(58.8,64),(59.9,64),(60.6,75),(61.7,42),(63.6,12),(64.7,-6),(66.8,10),(67.9,11),(69.5,-8),(70.6,-8),(72.7,-36),(73.8,-36),(75.7,-60),(77.5,-50),(79.1,-32),(80.7,-2),(82.9,-9),(84.5,-4),(85.8,8),(87.2,40),(87.9,46),(89.6,44),(91.7,62),(92.8,50),(93.8,30),(94.9,40),(95.7,26),(96.8,-2),(97.9,18),(98.7,20),(99.7,-6),(101.4,16),(102.7,-14),(104,-36),(105.3,-36),(106.6,-48),(107.7,-30),(109.6,-14),(110.9,-25),(111.8,-16),(113.4,-25),(114.7,-12),(116.6,-20),(117.6,-10),(119.3,34),(120.6,35),(121.7,63),(123.5,54),(125.7,34),(127.6,7),(128.6,14),(129.9,2),(130.8,-24),(131.6,-16),(132.6,-28),(134.2,-14),(135.8,-28),(137.4,-38),(138.5,-32),(139.8,-40),(141.2,-26),(142.8,0),(143.8,7),(144.7,4),(145.8,30),(146.5,30),(147.6,16),(148.7,-20),(149.5,-28),(150.8,-4),(152.9,0),(154.8,8),(155.9,-2),(158.6,-6),(159.6,2),(160.7,-4),(162.3,8),(164.5,58),(166.6,28),(167.7,40),(169.5,26),(170.5,56),(171.6,57),(172.8,33),(173.9,30),(175.7,36),(176.7,22),(177.8,24),(180,0),(181.2,1),(183.7,-20),(185,-4),(186.6,-18),(187.7,-2),(188.7,-21),(189.6,-13),(190.7,-18),(193.1,-2),(194.9,24),(196.5,32),(198.7,60),(200.3,46),(201.3,30),(202.1,-40),(203.5,-44),(204.5,-52),(206.2,-38),(207.8,-47),(209.9,-37),(211,-40),(212.6,-54),(214.7,-47),(216.3,-42),(217.6,12),(219,25),(221.1,23),(222.7,67),(223.8,44),(224.3,-26),(225.4,-31),(227.3,-9),(230.2,-26),(232.3,-28),(234.5,-8),(235.6,-24),(237.7,-33),(238.5,-28),(239.5,44),(241.4,40),(244.6,46),(247.6,62),(250.5,39),(251.6,58),(253.4,68),(255.3,70),(256.9,60),(258.5,66),(260.5,62),(262.8,53),(265.5,74),(267.6,97),(272.4,98),(274.6,60),(276.2,60),(276.7,56),(278.9,52),(280.5,38),(281.5,17),(282.6,28),(285.5,12),(287.4,-10),(289,8),(291.2,10),(293.3,11),(294.6,-12),(296.5,19),(297.6,2),(299.7,18),(301.3,-10),(302.4,3),(304.5,2),(306.1,-5),(307.4,-22),(308.3,-14),(309.5,24),(310.4,20),(311.5,26),(313.1,21),(314.5,8),(315.7,22),(316.6,74),(317.9,80),(320.3,86),(321.6,58),(323.5,18),(324.5,2),(325.3,7),(326.7,-1),(327.6,2),(329.3,-4),(330.4,-16),(331.6,6),(333.3,-6),(334.4,-6),(335.6,4),(337.3,32),(338.4,71),(340.3,67),(342.4,76),(344.1,85),(345.5,56),(346.7,52),(348.4,64),(349.6,38),(351,24),(352.3,20),(354.1,26),(356.1,6),(357.4,2),(358.7,24),(360.4,50),(362.3,40),(363.7,-2),(365.2,24),(367.5,30),(369.4,14),(371.7,33),(372.6,32),(374.3,8),(377.2,12),(378.3,52),(379.4,70),(380.6,54),(381.7,55),(382.6,48),(383.4,60),(384.3,-20),(385.5,0),(387.2,-22),(388.6,-8),(389.7,-10),(392.5,-30),(394.3,-24),(396.5,-10),(397.7,-18),(399.4,26),(400.5,12),(401.3,12),(402.5,35),(403.9,8),(405.2,-2),(406.8,14),(407.6,18),(408.5,39),(409.3,40),(410.4,26),(411.5,18)]

# Stochastic pane: fast pair and slow pair, (bar, value)
stoch_fast_k = [(0,64),(1,70),(2,46),(4,12),(5,12),(6,3),(7,4),(9,15),(10,15),(11,8),(12,1),(13,4),(15,6),(16,17),(17,50),(19,100),(20,93),(22,57),(24,17),(25,3),(26,1),(27,6),(28,35),(30,57),(32,75),(34,84),(35,68),(37,50),(38,52),(40,44),(42,36),(44,36),(45,37),(47,53),(49,90),(50,100),(51,97),(55,100),(56,86),(58,76),(59,97),(61,99),(62,61),(64,6),(65,1),(66,4),(68,32),(69,34),(71,13),(73,1),(75,4),(78,2),(79,21),(81,72),(83,94),(84,93),(86,89),(90,93),(93,92),(94,75),(95,28),(96,35),(98,92),(99,84),(101,52),(102,60),(104,32),(105,6),(106,1),(108,13),(110,43),(112,59),(114,63),(116,75),(118,100),(119,95),(121,93),(123,99),(125,100),(126,75),(128,24),(129,3),(131,3),(133,8),(135,21),(137,33),(138,33),(139,44),(141,37),(142,53),(144,97),(147,97),(148,75),(150,17),(151,14),(152,57),(154,63),(156,57),(158,55),(159,66),(161,93),(163,97),(164,86),(166,77),(169,90),(170,81),(172,79),(174,44),(175,43),(177,93),(178,83),(179,52),(181,1),(184,3),(186,21),(188,48),(189,35),(191,37),(192,83),(194,95),(197,100),(199,99),(201,86),(202,57),(204,8),(205,2),(207,15),(209,17),(212,25),(214,28),(216,61),(217,98),(223,99),(224,83),(226,21),(227,12),(229,32),(233,33),(235,57),(237,87),(239,83),(241,69),(244,99),(250,100),(252,93),(254,83),(258,99),(261,92),(263,100),(273,100),(275,61),(277,14),(278,15),(279,23),(283,13),(287,13),(290,6),(291,12),(293,37),(295,33),(297,29),(299,41),(300,64),(302,33),(304,4),(307,12),(308,32),(310,72),(312,100),(315,86),(317,100),(321,100),(323,79),(324,32),(325,6),(327,24),(329,15),(330,12),(332,39),(335,79),(337,99),(344,100),(345,72),(347,37),(348,57),(350,30),(352,2),(353,2),(355,24),(357,13),(359,46),(361,97),(362,100),(364,68),(366,13),(367,39),(370,40),(371,35),(374,63),(378,100),(381,86),(383,75),(385,53),(387,24),(389,33),(391,35),(394,28),(398,57),(400,86),(402,97),(404,86),(406,50),(407,21),(409,50),(410,91),(411,83)]
stoch_fast_d = [(0,65),(2,63),(3,32),(5,12),(7,5),(10,14),(12,3),(14,6),(16,21),(18,72),(20,92),(21,93),(22,64),(24,13),(26,2),(27,13),(29,46),(31,64),(34,81),(35,72),(37,53),(40,49),(42,43),(45,37),(47,43),(48,72),(50,97),(53,98),(56,93),(58,81),(60,93),(62,79),(64,21),(65,3),(67,17),(70,30),(71,13),(73,3),(75,5),(78,3),(80,17),(82,61),(84,93),(86,91),(91,93),(93,86),(95,43),(96,39),(98,75),(100,63),(102,55),(103,52),(105,10),(107,3),(109,26),(111,50),(113,61),(116,64),(117,86),(119,96),(121,93),(124,100),(126,86),(128,46),(130,13),(132,4),(135,13),(137,30),(139,37),(141,43),(143,72),(145,93),(147,97),(149,72),(150,30),(152,24),(154,57),(156,61),(158,55),(160,61),(162,86),(163,93),(166,81),(169,86),(172,81),(174,63),(175,52),(177,75),(178,83),(180,46),(182,4),(184,2),(186,21),(189,40),(191,40),(193,83),(195,97),(198,100),(201,92),(203,53),(204,13),(206,4),(208,15),(212,24),(214,26),(215,46),(217,86),(219,99),(223,100),(225,72),(227,21),(230,33),(233,33),(235,57),(237,84),(239,77),(241,72),(243,86),(246,99),(249,100),(252,95),(255,86),(259,98),(261,92),(264,99),(273,100),(275,57),(277,21),(279,14),(282,17),(284,12),(288,12),(290,9),(292,17),(294,35),(297,32),(299,43),(301,56),(302,46),(305,8),(307,12),(309,26),(311,83),(313,93),(316,89),(318,99),(321,99),(323,92),(324,66),(325,12),(327,21),(329,17),(331,17),(333,46),(336,86),(339,100),(344,100),(345,57),(348,45),(350,44),(352,12),(353,3),(356,21),(358,21),(360,50),(361,83),(362,96),(364,53),(366,23),(367,24),(369,39),(371,37),(373,55),(376,79),(379,94),(381,86),(383,64),(386,32),(388,30),(391,37),(394,28),(397,44),(399,79),(402,93),(404,83),(406,46),(408,32),(409,46),(410,68),(411,83)]
stoch_slow_k = [(0,90),(3,87),(5,84),(7,75),(10,63),(13,48),(16,36),(18,35),(20,40),(22,35),(25,24),(29,23),(32,20),(35,28),(39,32),(42,29),(46,19),(50,28),(56,43),(60,59),(63,62),(65,59),(69,59),(72,43),(76,24),(80,9),(82,8),(86,17),(89,33),(92,48),(95,44),(100,47),(103,44),(106,28),(110,19),(114,12),(119,33),(123,53),(127,65),(129,63),(134,48),(138,35),(141,33),(147,46),(149,43),(152,40),(156,37),(159,33),(162,50),(166,59),(169,72),(173,81),(177,89),(183,83),(188,70),(190,64),(193,68),(198,83),(201,88),(204,68),(207,39),(211,13),(214,1),(217,8),(220,13),(224,21),(228,18),(231,14),(235,8),(240,15),(245,24),(249,32),(255,44),(259,63),(267,99),(273,100),(277,97),(284,93),(292,88),(300,87),(306,75),(309,72),(313,72),(317,86),(322,97),(324,93),(326,68),(330,46),(333,36),(334,37),(337,53),(341,79),(344,92),(349,95),(352,84),(356,76),(360,79),(363,83),(366,77),(369,70),(375,61),(378,75),(383,88),(386,72),(390,46),(393,24),(395,9),(398,12),(402,13),(405,17),(407,15),(410,24),(411,27)]
stoch_slow_d = [(0,72),(2,81),(6,85),(10,81),(13,66),(17,50),(21,41),(25,34),(30,28),(34,24),(38,24),(44,27),(51,25),(56,30),(60,44),(64,55),(69,59),(74,52),(79,30),(83,17),(87,16),(92,26),(97,43),(102,46),(107,40),(112,28),(117,20),(121,21),(125,37),(129,53),(133,59),(137,53),(142,43),(147,38),(152,39),(156,41),(160,37),(166,44),(170,59),(174,73),(180,83),(185,83),(190,75),(194,70),(199,72),(203,77),(206,75),(210,57),(215,28),(219,13),(223,9),(227,17),(232,17),(238,13),(244,14),(250,24),(257,37),(263,59),(269,86),(275,97),(279,99),(286,95),(295,89),(301,87),(308,81),(314,75),(318,79),(324,84),(327,83),(330,68),(334,53),(338,47),(342,53),(346,75),(352,90),(358,83),(363,79),(369,78),(374,72),(378,69),(383,75),(387,78),(391,68),(397,39),(401,19),(405,13),(408,13),(411,18)]

# Projected path: (bar, price)
forecast = [(407.4,160.36),(410.2,160.69),(413,160.86),(414.8,160.94),(417,161.04),(418.8,161.05),(420.2,160.99),(421,160.65),(421.6,160.35),(423,160.29),(425,160.35),(427.3,160.58),(430.7,160.96),(433.6,161.37),(436.4,161.77),(438.5,162.21),(439.3,162.30),(440,162.32),(441.5,162.18)]

# Rising channel and oscillator trend lines: start/end bar and level
channel_upper = ([280.8, 431.9], [159.23, 161.41])
channel_lower = ([280.8, 427.0], [158.42, 160.03])
osc_trend_upper = ([272.4, 387.4], [96.9, 77.4])
osc_trend_lower = ([212.6, 386.2], [-55.8, 0.8])

fib_levels = [("1.272", 162.305, "#0d47a1"), ("1", 160.747, "#d98a16"), ("0.786", 159.521, "#c43a3a"),
              ("0.618", 158.559, "#1d4d22"), ("0.5", 157.883, "#1d4d22"), ("0.382", 157.207, "#0d3f8a"),
              ("0.236", 156.371, "#0c2f70"), ("0", 155.019, "#d98a16")]
pivot_levels = [("R2", "162.602", 162.602, "#9a9a9a"), ("R1", "160.93", 160.93, "#9a9a9a"),
                ("P", "157.979", 157.979, "#c4c4c4"), ("S1", "156.307", 156.307, "#9a9a9a")]
swing_levels = [(160.533, "#f23645"), (157.694, "#6a6a6a"), (157.025, "#6a6a6a"),
                (156.071, "#6a6a6a"), (154.856, "#388e3c")]
dotted_levels = [(160.08, "#f23645"), (158.95, "#ff9800"), (158.33, "#4caf50")]
target_levels = [(161.15, "#ff2f3a"), (160.88, "#ff2f3a"), (160.69, "#ff2f3a"),
                 (160.51, "#4caf50"), (160.33, "#4caf50"), (160.07, "#4caf50")]

time_ticks = [8.5,20.6,31.7,44.6,56.7,74.6,86.7,98.6,110.6,121.5,134.6,146.5,158.6,170.5,181.6,194.6,206.5,218.6,
              230.5,241.6,254.5,266.4,278.5,290.4,301.6,314.3,332.4,344.3,356.4,368.3,380.4,391.6,404.4,416.4,
              428.3,440.2,451.3,464.4,476.3]
time_labels = ["17","19","22","25","27","Apr","3","7","9","12","15","17","21","23","26","29","May","5","7","10",
               "13","15","19","21","24","27","Jun","3","5","9","11","14","17","19","23","25","28","Jul","3"]
month_labels = {"Apr", "May", "Jun", "Jul"}

table_head = ["Symbol", "Pattern", "4H", "D1", "W1", "M1", "Bias", "Trade"]
table_row = ["USDJPY", "-", "Bullish", "Bullish", "Bullish", "Bullish", "Long", "Flat"]

TEXT = "#a2a5ab"
C_UP, C_DN = "#008000", "#ff0000"

fig = plt.figure(figsize=(W / 100, H / 100), dpi=100, facecolor="#1e1e1e")

def fx(x): return x / W
def fy(y): return 1 - y / H
def axes_px(x0, y0, x1, y1):
    return fig.add_axes([fx(x0), fy(y1), (x1 - x0) / W, (y1 - y0) / H], facecolor="none")
def px_rect(x0, y0, x1, y1, **kw):
    r = Rectangle((fx(x0), fy(y1)), (x1 - x0) / W, (y1 - y0) / H, transform=fig.transFigure, **kw)
    fig.add_artist(r)
    return r
def px_text(x, y, s, **kw):
    kw.setdefault("va", "center")
    return fig.text(fx(x), fy(y), s, **kw)
def px_circle(x, y, r, **kw):
    c_ = Circle((x / 100, (H - y) / 100), radius=r / 100, transform=fig.dpi_scale_trans, **kw)
    fig.add_artist(c_)
    return c_

px_rect(10, 27, 3056, 1362, facecolor="#000000", edgecolor="#333333", linewidth=1.4, zorder=-5)
for y in (106.7, 1028, 1188, 1222):
    fig.add_artist(plt.Line2D([fx(10), fx(3056)], [fy(y), fy(y)], color="#2a2e39", lw=1.2, zorder=-4))

XLIM = ((10 - 70) / 5.965, (2917 - 70) / 5.965)

def style(ax):
    ax.set_xlim(*XLIM)
    ax.set_xticks([])
    for s in ax.spines.values():
        s.set_visible(False)
    ax.tick_params(length=0, labelcolor=TEXT, labelsize=9.4)

# ---- top info pane ----
ax_top = axes_px(10, 27, 2917, 106.7)
style(ax_top)
ax_top.set_ylim(-0.635, 0.635)
ax_top.yaxis.tick_right()
ax_top.set_yticks([0, -0.5], ["0.000", "\u22120.500"])
ax_top.tick_params(axis="y", pad=5.8)

# ---- price pane ----
ax = axes_px(10, 106.7, 2917, 1028)
style(ax)
ax.set_ylim(153.855, 163.227)
ax.yaxis.tick_right()
price_ticks = np.arange(154, 163.01, 0.5)
ax.set_yticks(price_ticks, [f"{p:.3f}" for p in price_ticks])
ax.tick_params(axis="y", pad=5.8)

c = np.array(closes)
o = np.r_[first_open, c[:-1]]
x = np.arange(len(c)) + 0.5
up = c >= o
hi = np.maximum(o, c) + np.array(upper_wick[:len(c)]) / 100
lo = np.minimum(o, c) - np.array(lower_wick[:len(c)]) / 100

# volume-by-price profile anchored on the left edge
rows = 160.82 - 0.0598 * np.arange(len(profile_buy))
ax.barh(rows, profile_buy, height=0.049, left=0, color="#1b3a20", zorder=1, linewidth=0)
ax.barh(rows, profile_sell, height=0.049, left=profile_buy, color="#3d1513", zorder=1, linewidth=0)

# level lines
for lvl, col in dotted_levels:
    ax.plot([0, 477], [lvl, lvl], color=col, lw=1.5, ls=(0, (1, 3)), zorder=2)
ax.plot([0, 477], [c[-1], c[-1]], color="#006400", lw=0.8, ls=(0, (1, 2)), zorder=2)

for name, val, col in fib_levels:
    ax.plot([187.6, 343.5], [val, val], color=col, lw=0.85, zorder=2)
    ax.annotate(f"{name} ({val:.3f})", (187.6, val), xytext=(-6, 0), textcoords="offset points",
                ha="right", va="center", color=col, fontsize=9.4, zorder=2)
for name, txt, val, col in pivot_levels:
    ax.plot([331.5, 463.6], [val, val], color=col, lw=0.95, zorder=2)
    ax.annotate(f"{name} ({txt})", (331.5, val), xytext=(-9, 0), textcoords="offset points",
                ha="right", va="center", color="#8f8f8f", fontsize=9.4, zorder=2)
for val, col in swing_levels:
    ax.plot([224.3, 343.5], [val, val], color=col, lw=1.4, zorder=2)
    ax.annotate(f"({val:.3f})", (343.5, val), xytext=(8.5, -1), textcoords="offset points",
                ha="left", va="center", color=col, fontsize=9.4, zorder=2)

# envelope bands
for band, col in ((band_r3, "#7d2029"), (band_r2, "#7d2029"), (band_r1, "#7d2029"),
                  (band_g1, "#2c6432"), (band_g2, "#2c6432"), (band_g3, "#2c6432")):
    bx, by = np.array(band).T
    ax.plot(bx, by, color=col, lw=0.95, zorder=2.2)

# candles
ax.vlines(x, lo, hi, color="#ffffff", lw=0.75, zorder=3)
body_h = np.maximum(np.abs(c - o), 0.018)
ax.bar(x, body_h, bottom=np.minimum(o, c), width=0.72,
       color=[C_UP if u else C_DN for u in up], linewidth=0, zorder=3.2)

def ma_segments(knots, up_col, dn_col):
    kx, ky = np.array(knots).T
    pts = np.column_stack([kx, ky])
    segs = np.stack([pts[:-1], pts[1:]], axis=1)
    cols = [up_col if b >= a else dn_col for a, b in zip(ky[:-1], ky[1:])]
    return LineCollection(segs, colors=cols, linewidths=2.4, capstyle="round")

ax.add_collection(ma_segments(ma_slow, "#0d5010", "#8a0a0a")).set_zorder(3.4)
ax.add_collection(ma_segments(ma_fast, "#0f6a12", "#a40a0a")).set_zorder(3.5)

# channel, forecast and target ticks
for line in (channel_upper, channel_lower):
    ax.plot(line[0], line[1], color="#1847b8", lw=1.5, zorder=4)
fb, fp = np.array(forecast).T
ax.plot(fb, fp, color="#ff9800", lw=1.5, ls=(0, (2.2, 2.6)), zorder=4)
for val, col in target_levels:
    ax.plot([409.4, 415.3], [val, val], color=col, lw=1.5, zorder=4, solid_capstyle="butt")

# ---- volume + oscillator pane ----
ax_v = axes_px(10, 1028, 2917, 1188)
style(ax_v)
ax_v.set_ylim(-0.5, 79.5)
vol = np.array(volume_k[:len(c)])
ax_v.bar(x[:len(vol)], vol, width=0.76, linewidth=0, zorder=1,
         color=["#255a28" if u else "#6e2424" for u in up[:len(vol)]])

ax_o = ax_v.twinx()
ax_o.set_position(ax_v.get_position())
ax_o.set_facecolor("none")
style(ax_o)
ax_o.set_ylim(-75.4, 116.2)
ax_o.set_yticks([-40, 0, 40, 80], ["\u221240.000", "0.000", "40.000", "80.000"])
ax_o.tick_params(axis="y", pad=57.6)

# twinx puts the host's ticks on the left, so the volume scale is set after it
ax_v.yaxis.tick_right()
ax_v.set_yticks([20, 40, 60], ["20 K", "40 K", "60 K"])
ax_v.tick_params(axis="y", pad=5.8, length=0)

ox, ov = np.array(osc).T
ax_o.plot([0, 411.5], [0, 0], color="#a64fc0", lw=1.4, zorder=2)
pts = np.column_stack([ox, ov])
segs = np.stack([pts[:-1], pts[1:]], axis=1)
seg_cols = []
for a, b in zip(ov[:-1], ov[1:]):
    if b < a and b < 22:
        seg_cols.append("#ff5252")
    elif b >= a and b < 8:
        seg_cols.append("#b08a58")
    else:
        seg_cols.append("#4caf50")
ax_o.add_collection(LineCollection(segs, colors=seg_cols, linewidths=2.3, capstyle="round", zorder=3))
for line in (osc_trend_upper, osc_trend_lower):
    ax_o.plot(line[0], line[1], color="#0d3fa8", lw=1.6, alpha=0.85, zorder=4)

# ---- stochastic pane ----
ax_s = axes_px(10, 1222, 2917, 1332)
style(ax_s)
ax_s.set_ylim(-6.9, 113.1)
ax_s.set_yticks([0, 40, 80], ["0.00", "40.00", "80.00"])
ax_s.tick_params(axis="y", pad=-36.7)
ax_s.set_xticks(time_ticks, time_labels)
ax_s.tick_params(axis="x", pad=7.5, length=0, labelsize=9.4)
for t in ax_s.get_xticklabels():
    if t.get_text() in month_labels:
        t.set_color("#d1d4dc")
        t.set_fontweight("bold")

ax_r = ax_s.twinx()
ax_r.set_position(ax_s.get_position())
ax_r.set_facecolor("none")
ax_r.set_xlim(*XLIM)
for s in ax_r.spines.values():
    s.set_visible(False)
ax_r.tick_params(length=0, labelcolor=TEXT, labelsize=9.4)
ax_r.set_ylim(3, 113)
ax_r.set_yticks([40, 80], ["40.00", "80.00"])
ax_r.tick_params(axis="y", pad=5.8)

ax_s.plot([0, 477.5], [80, 80], color="#f23025", lw=1.1, zorder=2)
ax_s.plot([0, 477.5], [20, 20], color="#4caf50", lw=1.1, zorder=2)
ax_s.plot([0, 477.5], [50, 50], color="#55565c", lw=0.9, ls=(0, (4, 4)), zorder=2)
for series, col in ((stoch_slow_k, "#3e9443"), (stoch_slow_d, "#d8392e"),
                    (stoch_fast_k, "#3e9443"), (stoch_fast_d, "#d8392e")):
    sx, sv = np.array(series).T
    ax_s.plot(sx, sv, color=col, lw=0.8, zorder=3)

# ---- table ----
col_edges = [1273.3, 1339.3, 1400, 1454.3, 1509.3, 1564.3, 1619.3, 1664.3, 1714]
row_fill = ["#363a45", "#1a1c20", "#024f02", "#024f02", "#024f02", "#024f02", "#00e676", "#1a1c20"]
row_text = ["#d1d4dc"] * 6 + ["#12804c", "#d1d4dc"]
for k in range(8):
    x0, x1 = col_edges[k] + 0.4, col_edges[k + 1] - 0.4
    px_rect(x0, 36.7, x1, 62.7, facecolor="#363a45", linewidth=0, zorder=5)
    px_rect(x0, 64, x1, 90, facecolor=row_fill[k], linewidth=0, zorder=5)
    px_text((x0 + x1) / 2, 50.2, table_head[k], ha="center", color="#d1d4dc", fontsize=10, zorder=6)
    px_text((x0 + x1) / 2, 77.5, table_row[k], ha="center", color=row_text[k], fontsize=10, zorder=6)

# ---- chrome ----
px_text(10, 16, "Tickmill created with TradingView.com, Jun 18, 2026 09:45 UTC+2", color="#e0e0e0", fontsize=8.7)

px_rect(2921, 31, 2984, 57, facecolor="#121315", edgecolor="#333333", linewidth=1, zorder=5)
px_text(2929, 44.5, "JPY", color="#d1d4dc", fontsize=9.4, zorder=6)

px_rect(2917, 356, 2982, 386.7, facecolor="#008000", linewidth=0, zorder=5)
px_text(2949.5, 364, f"{c[-1]:.3f}", ha="center", color="#ffffff", fontsize=9.4, zorder=6)
px_text(2949.5, 379, "01:14:39", ha="center", color="#cfe6cf", fontsize=9.4, zorder=6)

for cx, cy, s in ((40, 1349, "Z"), (2952, 1349, "A"), (3022, 1349, "B")):
    px_circle(cx, cy, 9, facecolor="#2a2a2c", linewidth=0, zorder=5)
    px_text(cx, cy, s, ha="center", color="#8f9096", fontsize=8, zorder=6)

# wordmark with its small mark
px_rect(12, 1385, 28, 1391, facecolor="#eeeeee", linewidth=0, zorder=5)
px_rect(18, 1385, 24, 1402, facecolor="#eeeeee", linewidth=0, zorder=5)
px_circle(30.5, 1388.5, 3, facecolor="#eeeeee", linewidth=0, zorder=5)
fig.add_artist(Polygon([[fx(34), fy(1385)], [fx(42), fy(1385)], [fx(35), fy(1402)], [fx(27), fy(1402)]],
                       transform=fig.transFigure, facecolor="#eeeeee", linewidth=0, zorder=5))
px_text(49, 1393, "TradingView", color="#eeeeee", fontsize=14, fontweight="semibold", zorder=6)

fig.savefig("out.png", dpi=100, facecolor=fig.get_facecolor())
